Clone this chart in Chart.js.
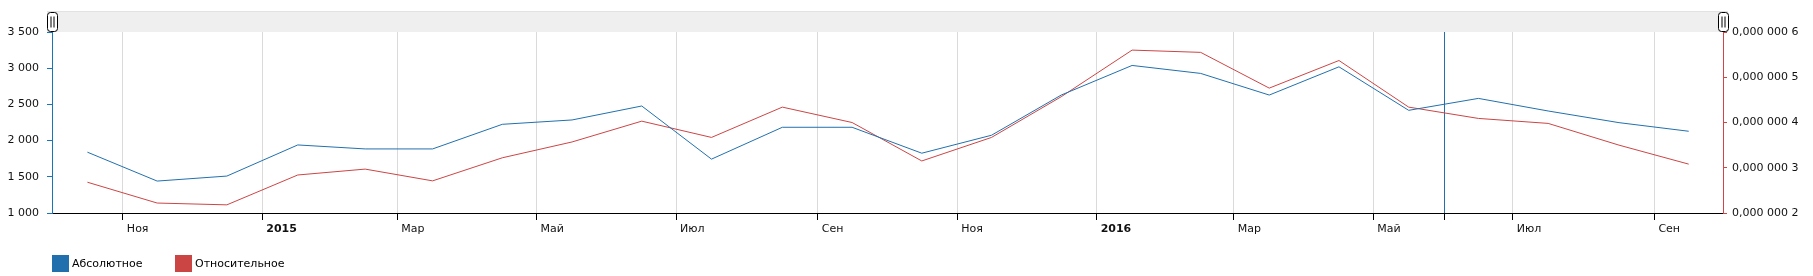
<!DOCTYPE html>
<html>
<head>
<meta charset="utf-8">
<script src="https://cdn.jsdelivr.net/npm/chart.js@4/dist/chart.umd.min.js"></script>
<style>
  html, body { margin:0; padding:0; background:#fff; overflow:hidden; }
  #wrap { position:relative; width:1813px; height:276px; }
  #c { position:absolute; left:0; top:0; }
  #legend { position:absolute; left:52px; top:255px; display:flex; font-family:"DejaVu Sans", sans-serif; font-size:11px; color:#000; }
  .item { display:flex; align-items:center; width:123px; height:17px; }
  .box { width:17px; height:17px; margin-right:3px; flex:none; }
</style>
</head>
<body>
<div id="wrap">
  <canvas id="c" width="1813" height="276"></canvas>
  <div id="legend"></div>
</div>
<script>
// ---- data ----
const months = ['2014-10','2014-11','2014-12','2015-01','2015-02','2015-03','2015-04','2015-05','2015-06','2015-07','2015-08','2015-09',
                '2015-10','2015-11','2015-12','2016-01','2016-02','2016-03','2016-04','2016-05','2016-06','2016-07','2016-08','2016-09'];
const absoluteValues = [1840,1441,1510,1940,1885,1885,2225,2285,2478,1744,2184,2184,
                        1826,2074,2629,3038,2928,2629,3019,2418,2583,2409,2248,2129];
const relativeValues = [2.68e-7,2.22e-7,2.18e-7,2.84e-7,2.97e-7,2.71e-7,3.22e-7,3.57e-7,4.03e-7,3.67e-7,4.34e-7,4.00e-7,
                        3.15e-7,3.67e-7,4.57e-7,5.60e-7,5.55e-7,4.76e-7,5.37e-7,4.34e-7,4.09e-7,3.98e-7,3.50e-7,3.08e-7];
const seriesNames = ['Абсолютное','Относительное'];
const tickMonths = ['2014-11','2015-01','2015-03','2015-05','2015-07','2015-09','2015-11','2016-01','2016-03','2016-05','2016-07','2016-09'];
const tickLabels = ['Ноя','2015','Мар','Май','Июл','Сен','Ноя','2016','Мар','Май','Июл','Сен'];
const boldLabels = ['2015','2016'];
const cursorMonth = '2016-06';
const xRange = ['2014-10','2016-10'];
const leftTicks = [1000,1500,2000,2500,3000,3500];
const rightTicks = [2e-7,3e-7,4e-7,5e-7,6e-7];

// ---- helpers ----
const DAY = 86400000;
function ym(s){ const p = s.split('-').map(Number); return [p[0], p[1]-1]; }
function monthStart(s){ const [y,m] = ym(s); return Date.UTC(y,m,1)/DAY; }
function monthMid(s){ const [y,m] = ym(s); return (Date.UTC(y,m,1)+Date.UTC(y,m+1,1))/2/DAY; }
function spaced(n){ return String(n).replace(/\B(?=(\d{3})+(?!\d))/g,' '); }

const labelByX = {};
tickMonths.forEach((m,i)=>{ labelByX[monthStart(m)] = tickLabels[i]; });
const cursorX = monthStart(cursorMonth);

const BLUE = '#2170ad';
const RED = '#cc4545';
const FONT = '"DejaVu Sans", sans-serif';

const scrollbar = {
  id:'scrollbar',
  beforeDraw(chart){
    const {ctx, chartArea:a} = chart;
    ctx.save();
    ctx.fillStyle = '#efefef';
    ctx.fillRect(a.left - 5, 11, a.right - a.left + 10, a.top - 11);
    ctx.fillStyle = '#e2e2e2';
    ctx.fillRect(a.left - 5, 11, a.right - a.left + 10, 1);
    ctx.restore();
  },
  afterDraw(chart){
    const {ctx, chartArea:a} = chart;
    ctx.save();
    [a.left, a.right].forEach(x=>{
      const w = 10, h = 19, x0 = Math.round(x - w/2) + 0.5, y0 = 12.5;
      ctx.beginPath();
      if (ctx.roundRect) ctx.roundRect(x0, y0, w, h, 3); else ctx.rect(x0, y0, w, h);
      ctx.fillStyle = '#fff'; ctx.fill();
      ctx.strokeStyle = '#000'; ctx.lineWidth = 1; ctx.stroke();
      ctx.beginPath();
      ctx.moveTo(x0 + 3.5, y0 + 4); ctx.lineTo(x0 + 3.5, y0 + h - 4);
      ctx.moveTo(x0 + 6.5, y0 + 4); ctx.lineTo(x0 + 6.5, y0 + h - 4);
      ctx.stroke();
    });
    ctx.restore();
  }
};

const chart = new Chart(document.getElementById('c'), {
  type:'line',
  data:{
    datasets:[
      { label:seriesNames[0], data:months.map((m,i)=>({x:monthMid(m), y:absoluteValues[i]})),
        borderColor:BLUE, backgroundColor:BLUE, borderWidth:1, pointRadius:0, tension:0, yAxisID:'y' },
      { label:seriesNames[1], data:months.map((m,i)=>({x:monthMid(m), y:relativeValues[i]})),
        borderColor:RED, backgroundColor:RED, borderWidth:1, pointRadius:0, tension:0, yAxisID:'y2' }
    ]
  },
  options:{
    responsive:false, animation:false, maintainAspectRatio:false,
    layout:{ padding:{ top:32, left:0, right:0, bottom:0 } },
    plugins:{ legend:{ display:false }, tooltip:{ enabled:false } },
    scales:{
      x:{
        type:'linear', position:'bottom',
        min:monthStart(xRange[0]), max:monthStart(xRange[1]),
        afterBuildTicks(axis){
          axis.ticks = tickMonths.map(m=>({value:monthStart(m)})).concat([{value:cursorX}]).sort((a,b)=>a.value-b.value);
        },
        afterFit(axis){ axis.height = 63; },
        border:{ display:true, color:'#000', width:1 },
        grid:{
          drawOnChartArea:true, drawTicks:true, tickLength:7, tickColor:'#000', lineWidth:1,
          color:(ctx)=> (ctx.tick && ctx.tick.value === cursorX) ? BLUE : '#dadada'
        },
        ticks:{
          autoSkip:false, maxRotation:0, align:'start', labelOffset:4, padding:3,
          color:'#111',
          font:(ctx)=>({ family:FONT, size:11, weight: (ctx.tick && boldLabels.includes(labelByX[ctx.tick.value])) ? 'bold' : 'normal' }),
          callback:(v)=> labelByX[v] !== undefined ? labelByX[v] : ''
        }
      },
      y:{
        type:'linear', position:'left', min:1000, max:3500,
        afterBuildTicks(axis){ axis.ticks = leftTicks.map(v=>({value:v})); },
        afterFit(axis){ axis.width = 52; },
        border:{ display:true, color:'#1a74b8', width:1 },
        grid:{ drawOnChartArea:false, drawTicks:true, tickLength:5, tickColor:'#1a74b8' },
        ticks:{ color:'#111', padding:8, font:{ family:FONT, size:11 }, callback:(v)=>spaced(v) }
      },
      y2:{
        type:'linear', position:'right', min:2e-7, max:6e-7,
        afterBuildTicks(axis){ axis.ticks = rightTicks.map(v=>({value:v})); },
        afterFit(axis){ axis.width = 90; },
        border:{ display:true, color:'#d04545', width:1 },
        grid:{ drawOnChartArea:false, drawTicks:true, tickLength:4, tickColor:'#d04545' },
        ticks:{ color:'#111', padding:5, font:{ family:FONT, size:11 }, callback:(v)=>'0,000 000 ' + Math.round(v*1e7) }
      }
    }
  },
  plugins:[scrollbar]
});

// HTML legend built from the chart's datasets
const legend = document.getElementById('legend');
chart.data.datasets.forEach(ds=>{
  const item = document.createElement('div'); item.className = 'item';
  const box = document.createElement('span'); box.className = 'box'; box.style.background = ds.borderColor;
  const txt = document.createElement('span'); txt.textContent = ds.label;
  item.appendChild(box); item.appendChild(txt); legend.appendChild(item);
});
</script>
</body>
</html>
